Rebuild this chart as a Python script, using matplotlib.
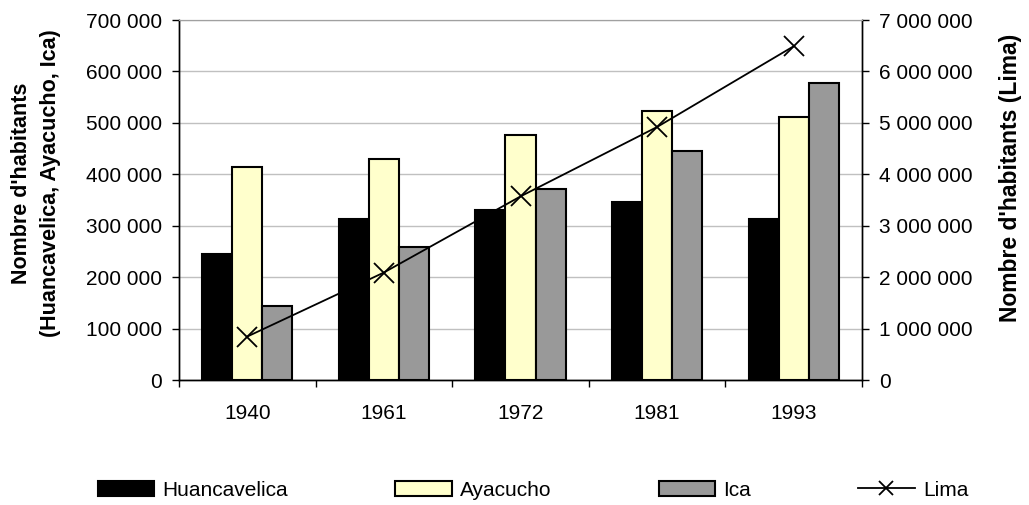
import numpy as np
import matplotlib.pyplot as plt
from matplotlib.lines import Line2D
from matplotlib.ticker import FuncFormatter, MultipleLocator

plt.rcParams['font.family'] = ['Liberation Sans', 'DejaVu Sans']

years = ["1940", "1961", "1972", "1981", "1993"]
huancavelica = [245000, 314000, 330000, 346000, 314000]
ayacucho = [415000, 430000, 476000, 524000, 512000]
ica = [143000, 259000, 371000, 445000, 578000]
lima = [845000, 2090000, 3570000, 4920000, 6490000]

def sep(v, pos=None):
    # space as thousands separator, like the original
    return "{:,}".format(int(round(v))).replace(",", " ")

fig = plt.figure(figsize=(10.29, 5.05), dpi=100)
ax = fig.add_axes([179/1029, 1 - 380/505, (862-179)/1029, 360/505])
ax2 = ax.twinx()

x = np.arange(len(years))
w = 0.22
ax.bar(x - w, huancavelica, w, color="black", edgecolor="black", linewidth=1.5, label="Huancavelica", zorder=3)
ax.bar(x, ayacucho, w, color="#ffffcc", edgecolor="black", linewidth=1.5, label="Ayacucho", zorder=3)
ax.bar(x + w, ica, w, color="#999999", edgecolor="black", linewidth=1.5, label="Ica", zorder=3)
ax2.plot(x, lima, color="black", lw=1.3, marker="x", ms=15, mew=1.3, label="Lima")

ax.set_xlim(-0.5, 4.5)
ax.set_ylim(0, 700000)
ax2.set_ylim(0, 7000000)
ax.yaxis.set_major_locator(MultipleLocator(100000))
ax2.yaxis.set_major_locator(MultipleLocator(1000000))
ax.yaxis.set_major_formatter(FuncFormatter(sep))
ax2.yaxis.set_major_formatter(FuncFormatter(sep))
ax.grid(axis="y", color="#c0c0c0", lw=1, zorder=0)
ax.set_axisbelow(True)

# category ticks sit between groups, labels in the middle
ax.set_xticks(np.arange(-0.5, 5, 1))
ax.set_xticklabels([])
ax.set_xticks(x, minor=True)
ax.set_xticklabels(years, minor=True, fontsize=15)
ax.tick_params(axis="x", which="minor", length=0, pad=17)
ax.tick_params(axis="x", which="major", length=5, width=1, direction="out")
ax.tick_params(axis="y", length=5, width=1, labelsize=15, pad=7)
ax2.tick_params(axis="y", length=5, width=1, labelsize=15, pad=7)

for a in (ax, ax2):
    a.spines["top"].set_color("#a0a0a0")
    a.spines["left"].set_linewidth(1)
    a.spines["right"].set_linewidth(1)
    a.spines["bottom"].set_linewidth(1)

ax.set_ylabel("Nombre d'habitants\n(Huancavelica, Ayacucho, Ica)", fontsize=15.5, fontweight="bold",
              linespacing=1.5)
ax.yaxis.set_label_coords((61-179)/683, (380-183)/360)
ax2.set_ylabel("Nombre d'habitants (Lima)", fontsize=16.5, fontweight="bold")
ax2.yaxis.set_label_coords((999-179)/683, (380-178)/360)

h1, l1 = ax.get_legend_handles_labels()
lima_handle = Line2D([], [], color="black", lw=1.3, marker="x", ms=10, mew=1.3)
fig.legend(h1 + [lima_handle], l1 + ["Lima"], loc="center", bbox_to_anchor=(533/1029, 1 - 490/505), ncol=4,
           frameon=False, fontsize=15, handlelength=2.7, handletextpad=0.4,
           columnspacing=5.15)

fig.savefig("out.png", dpi=100)
